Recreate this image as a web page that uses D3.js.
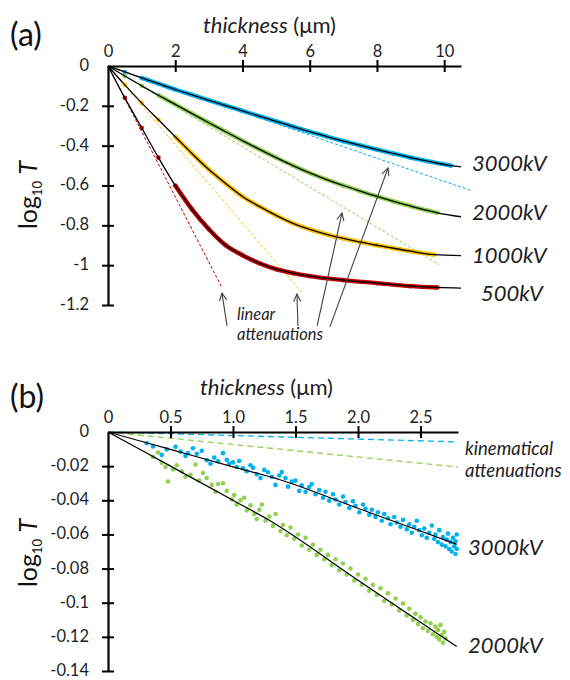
<!DOCTYPE html>
<html>
<head>
<meta charset="utf-8">
<script src="https://cdn.jsdelivr.net/npm/d3@7"></script>
<style>
  body { margin: 0; background: #fff; }
  svg { font-family: Lato, "Open Sans", sans-serif; }
</style>
</head>
<body>
<svg id="chart" width="570" height="680"></svg>
<script>

// ---- panel (a) data: log10 T vs thickness (um) ----
var a3000 = [[0,0],[0.5,-0.03],[1,-0.06],[1.5,-0.089],[2,-0.118],[2.5,-0.145],[3,-0.172],[3.5,-0.199],[4,-0.225],[4.5,-0.252],[5,-0.278],[5.5,-0.304],[6,-0.33],[6.5,-0.354],[7,-0.377],[7.5,-0.399],[8,-0.42],[8.5,-0.44],[9,-0.46],[9.5,-0.478],[10.2,-0.5]];
var a2000 = [[0,0],[0.5,-0.05],[1,-0.099],[1.5,-0.147],[2,-0.193],[2.5,-0.239],[3,-0.285],[3.5,-0.33],[4,-0.375],[4.5,-0.418],[5,-0.46],[5.5,-0.5],[6,-0.537],[6.5,-0.57],[7,-0.6],[7.5,-0.628],[8,-0.655],[8.5,-0.68],[9,-0.703],[9.5,-0.725],[9.8,-0.737]];
var a1000 = [[0,0],[0.5,-0.095],[1,-0.185],[1.5,-0.27],[2,-0.355],[2.5,-0.44],[3,-0.52],[3.5,-0.59],[4,-0.655],[4.5,-0.705],[5,-0.75],[5.5,-0.79],[6,-0.82],[6.5,-0.845],[7,-0.866],[7.5,-0.884],[8,-0.9],[8.5,-0.915],[9,-0.93],[9.7,-0.947]];
var a500 = [[0,0],[0.5,-0.16],[1,-0.31],[1.5,-0.46],[2,-0.6],[2.5,-0.72],[3,-0.82],[3.5,-0.9],[4,-0.95],[4.5,-0.99],[5,-1.02],[5.5,-1.04],[6,-1.055],[7,-1.075],[8,-1.09],[9,-1.105],[9.8,-1.112]];
// where the measured points become a continuous band
var aBandStart = [1, 1.5, 2, 2];
// fitted curves run a little past the data
var aFitEnd = [[10.5,-0.506],[10.5,-0.757],[10.5,-0.952],[10.5,-1.115]];
// linear attenuation lines (end points)
var lin3000 = [[0,0],[10.83,-0.627]];
var lin2000 = [[0,0],[9.85,-0.997]];
var lin1000 = [[0,0],[5.77,-1.138]];
var lin500 = [[0,0],[3.39,-1.113]];
var aSeriesNames = ["3000kV","2000kV","1000kV","500kV"];
var aXTicks = [0,2,4,6,8,10];
var aXLabels = ["0","2","4","6","8","10"];
var aYTicks = [0,-0.2,-0.4,-0.6,-0.8,-1,-1.2];
var aYLabels = ["0","-0.2","-0.4","-0.6","-0.8","-1","-1.2"];
// arrows: [tail, tip] in data units
var aArrows = [
  [[3.54,-1.305],[3.39,-1.14]],
  [[5.65,-1.305],[5.62,-1.145]],
  [[6.22,-1.305],[6.96,-0.738]],
  [[6.6,-1.31],[8.33,-0.512]]
];

// ---- panel (b) data ----
var b3000 = [[0.31,-0.0066],[0.36,-0.0085],[0.43,-0.0134],[0.47,-0.0102],[0.54,-0.0086],[0.58,-0.0115],[0.62,-0.014],[0.64,-0.0124],[0.68,-0.0095],[0.71,-0.0128],[0.75,-0.011],[0.79,-0.0165],[0.82,-0.0186],[0.85,-0.015],[0.88,-0.0172],[0.92,-0.0124],[0.95,-0.0163],[0.97,-0.0185],[1.0,-0.0178],[1.03,-0.0205],[1.05,-0.017],[1.08,-0.0212],[1.11,-0.023],[1.14,-0.0195],[1.16,-0.021],[1.19,-0.0248],[1.22,-0.027],[1.25,-0.0222],[1.28,-0.0236],[1.31,-0.0262],[1.34,-0.031],[1.37,-0.0255],[1.39,-0.0235],[1.42,-0.027],[1.44,-0.032],[1.47,-0.029],[1.5,-0.0285],[1.53,-0.0345],[1.55,-0.0312],[1.58,-0.035],[1.61,-0.0322],[1.63,-0.0305],[1.66,-0.0365],[1.69,-0.034],[1.72,-0.0385],[1.74,-0.035],[1.77,-0.0402],[1.8,-0.0365],[1.82,-0.0395],[1.85,-0.0425],[1.88,-0.0378],[1.9,-0.041],[1.93,-0.0445],[1.96,-0.0405],[1.98,-0.0432],[2.01,-0.047],[2.04,-0.0425],[2.06,-0.045],[2.09,-0.0485],[2.11,-0.0455],[2.14,-0.0498],[2.16,-0.047],[2.19,-0.052],[2.21,-0.048],[2.24,-0.0505],[2.26,-0.054],[2.29,-0.0498],[2.31,-0.053],[2.34,-0.0555],[2.36,-0.0515],[2.39,-0.057],[2.41,-0.054],[2.43,-0.059],[2.45,-0.0555],[2.47,-0.052],[2.49,-0.0575],[2.51,-0.0605],[2.53,-0.0565],[2.55,-0.062],[2.57,-0.059],[2.59,-0.0548],[2.61,-0.0625],[2.62,-0.06],[2.64,-0.0645],[2.65,-0.0575],[2.67,-0.066],[2.68,-0.0615],[2.7,-0.067],[2.71,-0.063],[2.72,-0.0595],[2.73,-0.0685],[2.74,-0.0645],[2.75,-0.07],[2.76,-0.062],[2.77,-0.067],[2.78,-0.0715],[2.78,-0.064],[2.79,-0.0685],[2.79,-0.06]];
var b2000 = [[0.36,-0.0146],[0.4,-0.012],[0.43,-0.018],[0.46,-0.0205],[0.48,-0.029],[0.52,-0.022],[0.55,-0.0195],[0.59,-0.023],[0.62,-0.0262],[0.66,-0.025],[0.7,-0.019],[0.73,-0.0285],[0.76,-0.024],[0.79,-0.027],[0.83,-0.031],[0.86,-0.035],[0.88,-0.0305],[0.92,-0.03],[0.95,-0.0345],[0.99,-0.0396],[1.01,-0.037],[1.03,-0.0425],[1.06,-0.04],[1.09,-0.0385],[1.11,-0.046],[1.14,-0.043],[1.17,-0.048],[1.19,-0.051],[1.21,-0.0455],[1.23,-0.0425],[1.26,-0.052],[1.29,-0.0495],[1.32,-0.055],[1.34,-0.048],[1.38,-0.058],[1.4,-0.0545],[1.43,-0.0605],[1.46,-0.056],[1.49,-0.0625],[1.52,-0.06],[1.55,-0.0665],[1.58,-0.062],[1.61,-0.069],[1.64,-0.066],[1.67,-0.072],[1.7,-0.069],[1.73,-0.0745],[1.76,-0.072],[1.79,-0.078],[1.82,-0.0745],[1.85,-0.081],[1.88,-0.077],[1.91,-0.0835],[1.94,-0.08],[1.97,-0.087],[2.0,-0.0835],[2.03,-0.0895],[2.06,-0.086],[2.09,-0.093],[2.12,-0.0895],[2.15,-0.0955],[2.18,-0.0915],[2.21,-0.099],[2.24,-0.0945],[2.27,-0.101],[2.3,-0.0975],[2.33,-0.1045],[2.36,-0.1005],[2.39,-0.1075],[2.41,-0.1035],[2.44,-0.11],[2.46,-0.1065],[2.48,-0.1125],[2.5,-0.1085],[2.52,-0.115],[2.54,-0.111],[2.56,-0.1165],[2.58,-0.112],[2.6,-0.1185],[2.62,-0.114],[2.63,-0.12],[2.64,-0.116],[2.65,-0.1215],[2.66,-0.113],[2.67,-0.119],[2.68,-0.1235],[2.69,-0.117],[2.7,-0.121]];
var bFit3000 = [[0,0],[0.5,-0.0102],[1.0,-0.0204],[1.376,-0.028],[2.0,-0.0447],[2.5,-0.058],[2.79,-0.0658]];
var bFit2000 = [[0,0],[0.5,-0.02],[1.0,-0.04],[1.28,-0.0513],[2.0,-0.0868],[2.5,-0.1114],[2.79,-0.1257]];
var kin3000 = [[0,0],[2.8,-0.0058]];
var kin2000 = [[0,0],[2.8,-0.0205]];
var bXTicks = [0,0.5,1,1.5,2,2.5];
var bXLabels = ["0","0.5","1.0","1.5","2.0","2.5"];
var bYTicks = [0,-0.02,-0.04,-0.06,-0.08,-0.1,-0.12,-0.14];
var bYLabels = ["0","-0.02","-0.04","-0.06","-0.08","-0.1","-0.12","-0.14"];

var colors = ["#00b0f0","#92d050","#ffc000","#c00000"];
var textColor = "#1e1e1e";

var svg = d3.select("#chart");

svg.append("defs").append("marker")
    .attr("id", "head")
    .attr("viewBox", "-9 -5 10 10")
    .attr("refX", 0).attr("refY", 0)
    .attr("markerWidth", 10).attr("markerHeight", 10)
    .attr("markerUnits", "userSpaceOnUse")
    .attr("orient", "auto")
  .append("path")
    .attr("d", "M-7.5,-3.6L0,0L-7.5,3.6")
    .attr("fill", "none")
    .attr("stroke", "#404040")
    .attr("stroke-width", 1.1);

function drawAxes(x, y, xTicks, xLabels, yTicks, yLabels) {
    var gx = svg.append("g")
        .attr("transform", "translate(0," + y(0) + ")")
        .call(d3.axisTop(x).tickValues(xTicks)
            .tickFormat(function(d, i) { return xLabels[i]; })
            .tickSize(6).tickSizeOuter(0).tickPadding(3));
    gx.selectAll(".tick line").attr("y1", 6)
        .attr("display", function(d) { return d === 0 ? "none" : null; });

    var gy = svg.append("g")
        .attr("transform", "translate(" + x(0) + ",0)")
        .call(d3.axisLeft(y).tickValues(yTicks)
            .tickFormat(function(d, i) { return yLabels[i]; })
            .tickSize(6).tickSizeOuter(0).tickPadding(13));
    gy.selectAll(".tick line").attr("x1", 6)
        .attr("display", function(d) { return d === 0 ? "none" : null; });
    gy.selectAll(".tick text").attr("dy", "0.27em");

    [gx, gy].forEach(function(g) {
        g.select(".domain").attr("stroke", "#000").attr("stroke-width", 2.2);
        g.selectAll(".tick line").attr("stroke", "#000").attr("stroke-width", 2);
        g.selectAll(".tick text").attr("font-size", 16.5).attr("fill", textColor)
            .attr("font-family", "Lato, sans-serif");
    });
}

function axisTitles(x0, yTitle, yLabelCenter, panel, panelY) {
    svg.append("text").attr("x", 10).attr("y", panelY)
        .attr("font-size", 32).attr("fill", "#111").text(panel);

    var t = svg.append("text").attr("x", x0).attr("y", yTitle)
        .attr("font-size", 22).attr("fill", textColor);
    t.append("tspan").attr("font-style", "italic").text("thickness");
    t.append("tspan").text(" (\u03bcm)");

    var yl = svg.append("text")
        .attr("transform", "translate(37," + yLabelCenter + ") rotate(-90)")
        .attr("text-anchor", "middle")
        .attr("font-size", 25).attr("fill", "#111");
    yl.append("tspan").text("log");
    yl.append("tspan").attr("font-size", 13).attr("dy", 5).text("10");
    yl.append("tspan").attr("dy", -5).text(" ");
    yl.append("tspan").attr("font-style", "italic").text("T");
}

// ================= panel (a) =================
var xa = d3.scaleLinear().domain([0, 10.5]).range([108, 461]);
var ya = d3.scaleLinear().domain([0, -1.2]).range([66, 305]);

var lineA = d3.line().x(function(d) { return xa(d[0]); }).y(function(d) { return ya(d[1]); });
var curveA = d3.line().curve(d3.curveMonotoneX)
    .x(function(d) { return xa(d[0]); }).y(function(d) { return ya(d[1]); });

var aSeries = [a3000, a2000, a1000, a500];
var aLinear = [lin3000, lin2000, lin1000, lin500];

aLinear.forEach(function(l, i) {
    svg.append("path").attr("d", lineA(l))
        .attr("fill", "none").attr("stroke", colors[i])
        .attr("stroke-width", 1).attr("stroke-dasharray", "3,2");
});

aSeries.forEach(function(s, i) {
    var band = s.filter(function(d) { return d[0] >= aBandStart[i]; });
    svg.append("path").attr("d", curveA(band))
        .attr("fill", "none").attr("stroke", colors[i])
        .attr("stroke-width", 4.4).attr("stroke-linecap", "butt");
    svg.append("g").selectAll("circle").data(s.slice(1)).enter().append("circle")
        .attr("cx", function(d) { return xa(d[0]); })
        .attr("cy", function(d) { return ya(d[1]); })
        .attr("r", 2.3).attr("fill", colors[i]);
});

aSeries.forEach(function(s, i) {
    svg.append("path").attr("d", curveA(s.concat([aFitEnd[i]])))
        .attr("fill", "none").attr("stroke", "#000").attr("stroke-width", 1.3);
});

drawAxes(xa, ya, aXTicks, aXLabels, aYTicks, aYLabels);
axisTitles(203, 33, 195, "(a)", 46);

var aLabelPos = [[472,171],[472,220],[472,263],[481,301]];
aSeriesNames.forEach(function(n, i) {
    svg.append("text").attr("x", aLabelPos[i][0]).attr("y", aLabelPos[i][1])
        .attr("font-size", 22).attr("font-style", "italic").attr("fill", textColor).text(n);
});

aArrows.forEach(function(a) {
    svg.append("line")
        .attr("x1", xa(a[0][0])).attr("y1", ya(a[0][1]))
        .attr("x2", xa(a[1][0])).attr("y2", ya(a[1][1]))
        .attr("stroke", "#404040").attr("stroke-width", 1.1)
        .attr("marker-end", "url(#head)");
});

svg.append("text").attr("x", 237).attr("y", 320).attr("font-size", 16.5)
    .attr("font-style", "italic").attr("fill", textColor).text("linear");
svg.append("text").attr("x", 237).attr("y", 340).attr("font-size", 16.5)
    .attr("font-style", "italic").attr("fill", textColor).text("attenuations");

// ================= panel (b) =================
var xb = d3.scaleLinear().domain([0, 2.8]).range([108, 458]);
var yb = d3.scaleLinear().domain([0, -0.14]).range([432, 671]);

var lineB = d3.line().x(function(d) { return xb(d[0]); }).y(function(d) { return yb(d[1]); });
var curveB = d3.line().curve(d3.curveMonotoneX)
    .x(function(d) { return xb(d[0]); }).y(function(d) { return yb(d[1]); });

[kin3000, kin2000].forEach(function(l, i) {
    svg.append("path").attr("d", lineB(l))
        .attr("fill", "none").attr("stroke", colors[i])
        .attr("stroke-width", 1.3).attr("stroke-dasharray", "6,4");
});

[b3000, b2000].forEach(function(s, i) {
    svg.append("g").selectAll("circle").data(s).enter().append("circle")
        .attr("cx", function(d) { return xb(d[0]); })
        .attr("cy", function(d) { return yb(d[1]); })
        .attr("r", 2.3).attr("fill", colors[i]);
});

[bFit3000, bFit2000].forEach(function(s) {
    svg.append("path").attr("d", curveB(s))
        .attr("fill", "none").attr("stroke", "#000").attr("stroke-width", 1.2);
});

drawAxes(xb, yb, bXTicks, bXLabels, bYTicks, bYLabels);
axisTitles(200, 395, 553, "(b)", 408);

var bLabelPos = [[468,555],[468,653]];
["3000kV","2000kV"].forEach(function(n, i) {
    svg.append("text").attr("x", bLabelPos[i][0]).attr("y", bLabelPos[i][1])
        .attr("font-size", 22).attr("font-style", "italic").attr("fill", textColor).text(n);
});

svg.append("text").attr("x", 465).attr("y", 455).attr("font-size", 18.5)
    .attr("font-style", "italic").attr("fill", textColor).text("kinematical");
svg.append("text").attr("x", 465).attr("y", 477).attr("font-size", 18.5)
    .attr("font-style", "italic").attr("fill", textColor).text("attenuations");

</script>
</body>
</html>
